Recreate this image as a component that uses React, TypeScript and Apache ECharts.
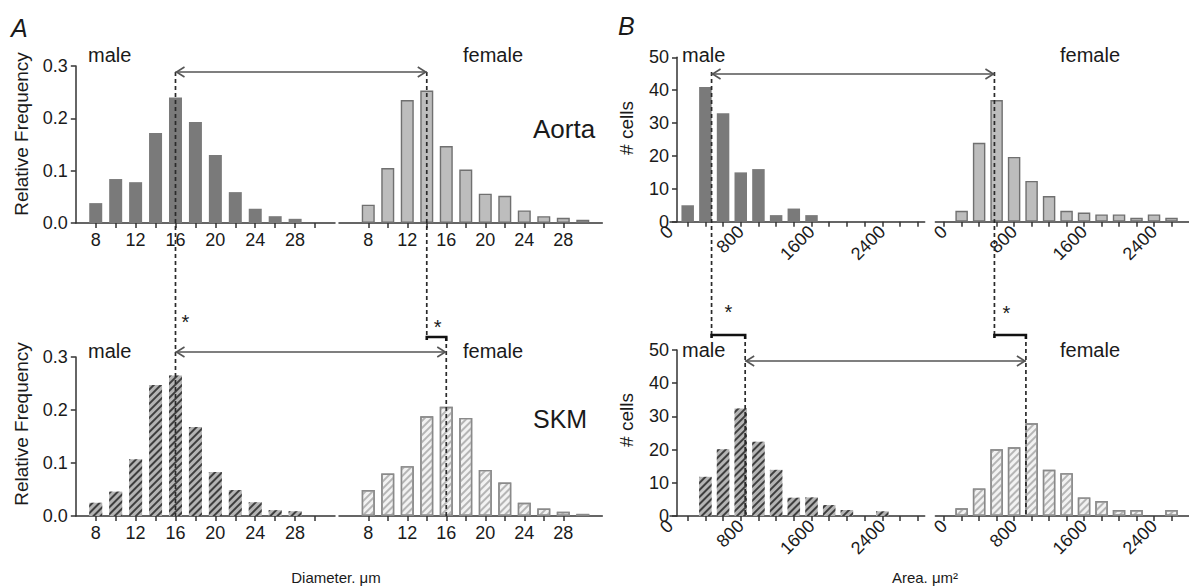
import React, { useEffect, useRef } from "react";
import * as echarts from "echarts";

const FONT = "'Liberation Sans', Arial, Helvetica, sans-serif";

// ---------- Panel A: cell diameter (µm), relative frequency ----------
const diameterBins = [8, 10, 12, 14, 16, 18, 20, 22, 24, 26, 28, 30];
const diameterTicksMale = [8, 10, 12, 14, 16, 18, 20, 22, 24, 26, 28, 30];
const diameterTicksFemale = [8, 10, 12, 14, 16, 18, 20, 22, 24, 26, 28];
const diameterLabels = [8, 12, 16, 20, 24, 28];

const aortaMaleFreq = [0.038, 0.084, 0.078, 0.172, 0.24, 0.193, 0.13, 0.059, 0.027, 0.013, 0.008, 0];
const aortaFemaleFreq = [0.035, 0.105, 0.235, 0.253, 0.147, 0.102, 0.056, 0.052, 0.024, 0.013, 0.01, 0.006];
const skmMaleFreq = [0.025, 0.046, 0.107, 0.247, 0.265, 0.168, 0.083, 0.049, 0.026, 0.011, 0.009, 0];
const skmFemaleFreq = [0.049, 0.08, 0.094, 0.188, 0.206, 0.185, 0.087, 0.063, 0.025, 0.014, 0.008, 0.004];

// medians marked by dashed lines [male, female]
const diameterMedianAorta = [16, 14];
const diameterMedianSkm = [16, 16];

// ---------- Panel B: cell area (µm²), # cells ----------
const areaBins = [200, 400, 600, 800, 1000, 1200, 1400, 1600, 1800, 2000, 2200, 2400, 2600];
const areaTicksMale = [200, 400, 600, 800, 1000, 1200, 1400, 1600, 1800, 2000, 2200, 2400, 2600, 2800];
const areaTicksFemale = [0, 200, 400, 600, 800, 1000, 1200, 1400, 1600, 1800, 2000, 2200, 2400, 2600];
const areaLabels = [0, 800, 1600, 2400];

const aortaMaleCells = [5, 41, 33, 15, 16, 2, 4, 2, 0, 0, 0, 0, 0];
const aortaFemaleCells = [3.3, 24, 37, 19.7, 12.4, 7.8, 3.3, 2.8, 2.2, 2.2, 1.2, 2.2, 1.2];
const skmMaleCells = [0, 11.8, 20.1, 32.4, 22.4, 13.9, 5.5, 5.6, 3.3, 1.8, 0, 1.4, 0];
const skmFemaleCells = [2.3, 8.3, 20.1, 20.7, 27.9, 13.9, 12.9, 5.6, 4.5, 1.8, 1.8, 0, 1.8];

const areaMedianAorta = [470, 575];
const areaMedianSkm = [850, 935];

// ---------- styles ----------
const AXIS = "#333";
const TEXT = "#1a1a1a";

const styles: Record<string, any> = {
  maleSolid: { color: "#7a7a7a" },
  femaleSolid: { color: "#bdbdbd", borderColor: "#707070", borderWidth: 1.4 },
  maleHatch: {
    color: "#b4b4b4",
    decal: { symbol: "rect", symbolSize: 1, color: "#3e3e3e", dashArrayX: [1, 0], dashArrayY: [2, 2.2], rotation: -Math.PI / 4 },
  },
  femaleHatch: {
    color: "#f2f2f2",
    borderColor: "#8a8a8a",
    borderWidth: 1.4,
    decal: { symbol: "rect", symbolSize: 1, color: "#b5b5b5", dashArrayX: [1, 0], dashArrayY: [1.8, 2.6], rotation: -Math.PI / 4 },
  },
};

type Panel = {
  grid: { left: number; top: number; width: number; height: number };
  xMin: number; xMax: number; ticks: number[]; labels: number[]; rotate: number;
  yMax: number; yInterval: number; showY: boolean; yOffset: number; yFmt: (v: number) => string;
  bins: number[]; values: number[]; style: string; barWidth: number;
};

const fmtFreq = (v: number) => v.toFixed(1);
const fmtInt = (v: number) => String(Math.round(v));

const panels: Panel[] = [
  { grid: { left: 75.8, top: 66, width: 259.2, height: 157 }, xMin: 6, xMax: 32, ticks: diameterTicksMale, labels: diameterLabels, rotate: 0,
    yMax: 0.3, yInterval: 0.1, showY: true, yOffset: 0, yFmt: fmtFreq, bins: diameterBins, values: aortaMaleFreq, style: "maleSolid", barWidth: 13 },
  { grid: { left: 339, top: 66, width: 263.3, height: 157 }, xMin: 5, xMax: 32, ticks: diameterTicksFemale, labels: diameterLabels, rotate: 0,
    yMax: 0.3, yInterval: 0.1, showY: false, yOffset: 0, yFmt: fmtFreq, bins: diameterBins, values: aortaFemaleFreq, style: "femaleSolid", barWidth: 13 },
  { grid: { left: 75.8, top: 357, width: 259.2, height: 159 }, xMin: 6, xMax: 32, ticks: diameterTicksMale, labels: diameterLabels, rotate: 0,
    yMax: 0.3, yInterval: 0.1, showY: true, yOffset: 0, yFmt: fmtFreq, bins: diameterBins, values: skmMaleFreq, style: "maleHatch", barWidth: 13 },
  { grid: { left: 339, top: 357, width: 263.3, height: 159 }, xMin: 5, xMax: 32, ticks: diameterTicksFemale, labels: diameterLabels, rotate: 0,
    yMax: 0.3, yInterval: 0.1, showY: false, yOffset: 0, yFmt: fmtFreq, bins: diameterBins, values: skmFemaleFreq, style: "femaleHatch", barWidth: 13 },
  { grid: { left: 670, top: 57.3, width: 254.7, height: 164.4 }, xMin: 0, xMax: 2880, ticks: areaTicksMale, labels: areaLabels, rotate: 45,
    yMax: 50, yInterval: 10, showY: true, yOffset: -7, yFmt: fmtInt, bins: areaBins, values: aortaMaleCells, style: "maleSolid", barWidth: 12.5 },
  { grid: { left: 935.4, top: 57.3, width: 257.2, height: 164.4 }, xMin: -100, xMax: 2800, ticks: areaTicksFemale, labels: areaLabels, rotate: 45,
    yMax: 50, yInterval: 10, showY: false, yOffset: 0, yFmt: fmtInt, bins: areaBins, values: aortaFemaleCells, style: "femaleSolid", barWidth: 12.5 },
  { grid: { left: 670, top: 350, width: 254.7, height: 166 }, xMin: 0, xMax: 2880, ticks: areaTicksMale, labels: areaLabels, rotate: 45,
    yMax: 50, yInterval: 10, showY: true, yOffset: -7, yFmt: fmtInt, bins: areaBins, values: skmMaleCells, style: "maleHatch", barWidth: 12.5 },
  { grid: { left: 935.4, top: 350, width: 257.2, height: 166 }, xMin: -100, xMax: 2800, ticks: areaTicksFemale, labels: areaLabels, rotate: 45,
    yMax: 50, yInterval: 10, showY: false, yOffset: 0, yFmt: fmtInt, bins: areaBins, values: skmFemaleCells, style: "femaleHatch", barWidth: 12.5 },
];

function buildOption() {
  const lineStyle = { color: AXIS, width: 1.5 };
  return {
    animation: false,
    backgroundColor: "#fff",
    textStyle: { fontFamily: FONT },
    grid: panels.map((p) => ({ ...p.grid, containLabel: false })),
    xAxis: panels.map((p, i) => ({
      type: "value",
      gridIndex: i,
      min: p.xMin,
      max: p.xMax,
      axisLine: { show: true, onZero: false, lineStyle },
      axisTick: { show: true, customValues: p.ticks, length: 5, lineStyle },
      axisLabel: {
        customValues: p.labels,
        formatter: (v: number) => String(v),
        fontSize: 18,
        color: TEXT,
        fontFamily: FONT,
        margin: p.rotate ? 7 : 8,
        rotate: p.rotate,
      },
      splitLine: { show: false },
    })),
    yAxis: panels.map((p, i) => ({
      type: "value",
      gridIndex: i,
      min: 0,
      max: p.yMax,
      interval: p.yInterval,
      show: p.showY,
      offset: p.yOffset,
      axisLine: { show: true, lineStyle },
      axisTick: { show: true, length: 5, lineStyle },
      axisLabel: { formatter: p.yFmt, fontSize: 18, color: TEXT, fontFamily: FONT, margin: 8 },
      splitLine: { show: false },
    })),
    series: panels.map((p, i) => ({
      type: "bar",
      xAxisIndex: i,
      yAxisIndex: i,
      barWidth: p.barWidth,
      itemStyle: styles[p.style],
      data: p.bins.map((b, k) => [b, p.values[k]]).filter((d) => d[1] > 0),
      z: 2,
    })),
  };
}

function buildGraphic(chart: any) {
  const px = (g: number, x: number) => (chart.convertToPixel({ gridIndex: g }, [x, 0]) as number[])[0];
  const els: any[] = [];
  const dash = (x: number, y1: number, y2: number) =>
    els.push({ type: "line", z: 100, shape: { x1: x, y1, x2: x, y2 }, style: { stroke: "#2a2a2a", lineWidth: 1.7, lineDash: [4, 3] } });
  const arrow = (x1: number, x2: number, y: number) => {
    els.push({ type: "line", z: 100, shape: { x1, y1: y, x2, y2: y }, style: { stroke: "#555", lineWidth: 1.6 } });
    els.push({ type: "polyline", z: 100, shape: { points: [[x1 + 9, y - 5], [x1 + 1, y], [x1 + 9, y + 5]] }, style: { stroke: "#555", lineWidth: 1.6, fill: null } });
    els.push({ type: "polyline", z: 100, shape: { points: [[x2 - 9, y - 5], [x2 - 1, y], [x2 - 9, y + 5]] }, style: { stroke: "#555", lineWidth: 1.6, fill: null } });
  };
  const bracket = (x1: number, x2: number, y: number) =>
    els.push({ type: "polyline", z: 101, shape: { points: [[x1, y + 3], [x1, y], [x2, y], [x2, y + 4]] }, style: { stroke: "#111", lineWidth: 2.6, fill: null } });
  const text = (t: string, x: number, y: number, size: number, extra: any = {}) =>
    els.push({ type: "text", z: 100, x, y, ...extra, style: { text: t, fontSize: size, fontFamily: FONT, fill: TEXT, align: "left", verticalAlign: "middle", ...(extra.style || {}) } });

  // Panel A
  const aM = px(0, diameterMedianAorta[0]);
  const aF = px(1, diameterMedianAorta[1]);
  const sM = px(2, diameterMedianSkm[0]);
  const sF = px(3, diameterMedianSkm[1]);
  dash(aM, 72, 516);
  dash(aF, 72, 337);
  dash(sF, 337, 516);
  bracket(aF, sF, 337);
  arrow(aM, aF, 72);
  arrow(sM, sF, 352);

  // Panel B
  const bM = px(4, areaMedianAorta[0]);
  const bF = px(5, areaMedianAorta[1]);
  const cM = px(6, areaMedianSkm[0]);
  const cF = px(7, areaMedianSkm[1]);
  dash(bM, 72, 335);
  dash(cM, 335, 516);
  bracket(bM, cM, 335);
  dash(bF, 72, 335);
  dash(cF, 335, 516);
  bracket(bF, cF, 335);
  arrow(bM, bF, 74);
  arrow(cM, cF, 361);

  // asterisks
  text("*", aM + 10, 322, 20, { style: { align: "center" } });
  text("*", (aF + sF) / 2 + 1, 327, 20, { style: { align: "center" } });
  text("*", (bM + cM) / 2, 312, 20, { style: { align: "center" } });
  text("*", bF + 12, 313, 20, { style: { align: "center" } });

  // panel letters
  text("A", 11, 28, 25, { style: { fontStyle: "italic" } });
  text("B", 618, 26, 25, { style: { fontStyle: "italic" } });

  // group labels
  text("male", 88, 55, 20);
  text("female", 463, 55, 20);
  text("male", 88, 351, 20);
  text("female", 463, 351, 20);
  text("male", 682, 55, 20);
  text("female", 1060, 55, 20);
  text("male", 682, 350, 20);
  text("female", 1060, 350, 20);
  text("Aorta", 533, 129, 26);
  text("SKM", 533, 419, 25);

  // axis titles
  const vtitle = (t: string, x: number, y: number) =>
    els.push({ type: "text", z: 100, x, y, rotation: Math.PI / 2, style: { text: t, fontSize: 19, fontFamily: FONT, fill: TEXT, align: "center", verticalAlign: "middle" } });
  vtitle("Relative Frequency", 21, 134);
  vtitle("Relative Frequency", 21, 424);
  vtitle("# cells", 626, 128);
  vtitle("# cells", 626, 420);
  text("Diameter. μm", 336, 577, 15, { style: { align: "center" } });
  text("Area. μm²", 925, 577, 15, { style: { align: "center" } });

  return els;
}

export default function App() {
  const ref = useRef<HTMLDivElement>(null);
  useEffect(() => {
    if (!ref.current) return;
    const chart = echarts.init(ref.current, null, { renderer: "svg" });
    chart.setOption(buildOption() as any);
    chart.setOption({ graphic: { elements: buildGraphic(chart) } } as any);
    return () => chart.dispose();
  }, []);
  return (
    <div
      ref={ref}
      style={{ position: "fixed", left: 0, top: 0, width: 1189, height: 587, background: "#fff" }}
    />
  );
}
